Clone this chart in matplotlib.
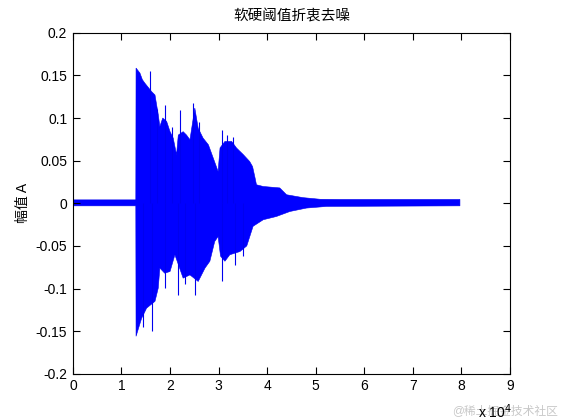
import matplotlib
matplotlib.use('Agg')
import matplotlib.pyplot as plt
from matplotlib.ticker import FixedLocator, FuncFormatter

plt.rcParams['font.family'] = ['Liberation Sans', 'Noto Sans CJK SC', 'DejaVu Sans']

# upper / lower envelope of the denoised signal
# (sample index, amplitude)
top_x = [0, 12950, 13000, 13800, 14300, 14800, 15500, 16200, 16900, 17570, 17900,
         18500, 19300, 20000, 20650, 21340, 21700, 22700, 23400, 24100, 25100,
         25800, 26800, 27900, 28900, 29900, 30300, 31300, 32700, 33700, 35100,
         36400, 37000, 37500, 37800, 39200, 42600, 44000, 47400, 50900, 55000, 79700]
top_y = [0.004, 0.004, 0.1586, 0.1527, 0.145, 0.141, 0.136, 0.131, 0.127, 0.104, 0.090,
         0.100, 0.096, 0.084, 0.0765, 0.057, 0.080, 0.084, 0.080, 0.0745, 0.1117,
         0.088, 0.0765, 0.0686, 0.053, 0.0373, 0.065, 0.0725, 0.0725, 0.0648, 0.057,
         0.049, 0.043, 0.030, 0.0217, 0.0197, 0.018, 0.010, 0.0066, 0.0047, 0.0045, 0.0045]
bot_x = [0, 12950, 13000, 14140, 15170, 16900, 17570, 17900, 18900, 20000, 21000,
         22700, 24100, 25800, 27200, 28200, 29200, 29900, 30400, 31300, 32300,
         34400, 35800, 37100, 39200, 41900, 44700, 48100, 52200, 79700]
bot_y = [-0.003, -0.003, -0.156, -0.135, -0.123, -0.115, -0.0995, -0.076, -0.082, -0.080, -0.0604,
         -0.0878, -0.084, -0.0917, -0.076, -0.068, -0.0448, -0.039, -0.062, -0.068, -0.0604,
         -0.0566, -0.050, -0.027, -0.0193, -0.0155, -0.0096, -0.0056, -0.0037, -0.003]

# isolated peaks sticking out of the envelope
spike_up_x = [15860, 17300, 18950, 20400, 22000, 24800, 26000, 30600, 31800, 33000]
spike_up_y = [0.1546, 0.110, 0.1155, 0.090, 0.1097, 0.1175, 0.095, 0.0862, 0.080, 0.078]
spike_dn_x = [14500, 16200, 18950, 21700, 23000, 25100, 30600, 33400, 35000]
spike_dn_y = [-0.145, -0.150, -0.0995, -0.107, -0.095, -0.107, -0.0917, -0.072, -0.062]

x_ticks = [0, 10000, 20000, 30000, 40000, 50000, 60000, 70000, 80000, 90000]
y_ticks = [-0.2, -0.15, -0.1, -0.05, 0, 0.05, 0.1, 0.15, 0.2]

fig = plt.figure(figsize=(5.61, 4.2), dpi=100)
ax = fig.add_axes([0.13, 0.11, 0.779, 0.812])

ax.fill(top_x + bot_x[::-1], top_y + bot_y[::-1], color='#0000ff',
        linewidth=0.4, edgecolor='#0000ee')
ax.vlines(spike_up_x, 0, spike_up_y, color='#0000ee', linewidth=0.8)
ax.vlines(spike_dn_x, spike_dn_y, 0, color='#0000ee', linewidth=0.8)

ax.set_xlim(0, 90000)
ax.set_ylim(-0.2, 0.2)
ax.xaxis.set_major_locator(FixedLocator(x_ticks))
ax.xaxis.set_major_formatter(FuncFormatter(lambda v, p: f'{v / 1e4:g}'))
ax.yaxis.set_major_locator(FixedLocator(y_ticks))
ax.yaxis.set_major_formatter(FuncFormatter(lambda v, p: f'{v:g}'))
ax.tick_params(direction='in', length=5, width=0.8, top=True, right=True,
               labelsize=10, pad=4)
for s in ax.spines.values():
    s.set_linewidth(0.8)

ax.set_title('软硬阈值折衷去噪', fontsize=10.5, pad=9)
ax.set_ylabel('幅值 A', fontsize=10, labelpad=4)

fig.text(452 / 561, 1 - 411 / 420, '@稀土掘金技术社区', fontsize=8.5, color='#c8c8c8',
         va='center', ha='left')
fig.text(478 / 561, 1 - 412 / 420, 'x 10$^4$', fontsize=10, va='center', ha='left')

fig.savefig('out.png', dpi=100)
